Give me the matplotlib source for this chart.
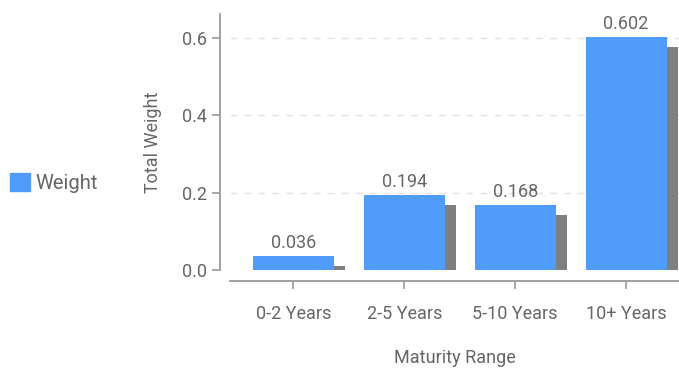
import matplotlib
matplotlib.use("Agg")
import matplotlib.pyplot as plt
import matplotlib.patheffects as pe
from matplotlib.patches import Patch

# data
categories = ["0-2 Years", "2-5 Years", "5-10 Years", "10+ Years"]
weights = [0.036, 0.194, 0.168, 0.602]
yticks = [0.0, 0.2, 0.4, 0.6]

plt.rcParams["font.family"] = ["Roboto", "DejaVu Sans"]

blue = "#4f9cfb"
txt = "#666666"
spine_col = "#999999"
fs = 13

fig = plt.figure(figsize=(6.79, 3.72), dpi=100)
ax = fig.add_axes([230 / 679, 1 - 270 / 372, 449 / 679, 256 / 372])

x = range(len(categories))
bars = ax.bar(x, weights, width=0.73, color=blue, zorder=3,
              path_effects=[pe.SimplePatchShadow(offset=(8, -7.2), shadow_rgbFace="#7f7f7f", alpha=1.0),
                            pe.Normal()])

for b, v in zip(bars, weights):
    ax.annotate(f"{v:.3f}", (b.get_x() + b.get_width() / 2, v), xytext=(0, 3),
                textcoords="offset points", ha="center", va="bottom",
                fontsize=fs, color=txt)

ax.set_xlim(-0.572, 3.477)
ax.set_ylim(0, 0.662)
ax.set_xticks(list(x))
ax.set_xticklabels(categories)
ax.set_yticks(yticks)
ax.set_yticklabels([f"{t:.1f}" for t in yticks])
ax.tick_params(axis="both", labelsize=fs, colors=txt, length=6, width=1.2, color=spine_col)
ax.tick_params(axis="x", pad=11)

ax.grid(axis="y", color="#e3e3e3", linestyle=(0, (5, 5)), linewidth=1, zorder=0)
ax.set_axisbelow(True)

for s in ["top", "right"]:
    ax.spines[s].set_visible(False)
ax.spines["left"].set_position(("outward", 7.2))
ax.spines["bottom"].set_position(("outward", 8))
for s in ["left", "bottom"]:
    ax.spines[s].set_color(spine_col)
    ax.spines[s].set_linewidth(1.3)

ax.set_ylabel("Total Weight", fontsize=fs, color=txt, labelpad=14)
ax.set_xlabel("Maturity Range", fontsize=fs, color=txt, labelpad=19)

ax.legend([Patch(color=blue)], ["Weight"], loc="center left", bbox_to_anchor=(-0.53, 0.34),
          frameon=False, fontsize=14.5, handlelength=1.0, handleheight=1.0,
          handletextpad=0.25, labelcolor=txt)

fig.savefig("out.png", dpi=100)
